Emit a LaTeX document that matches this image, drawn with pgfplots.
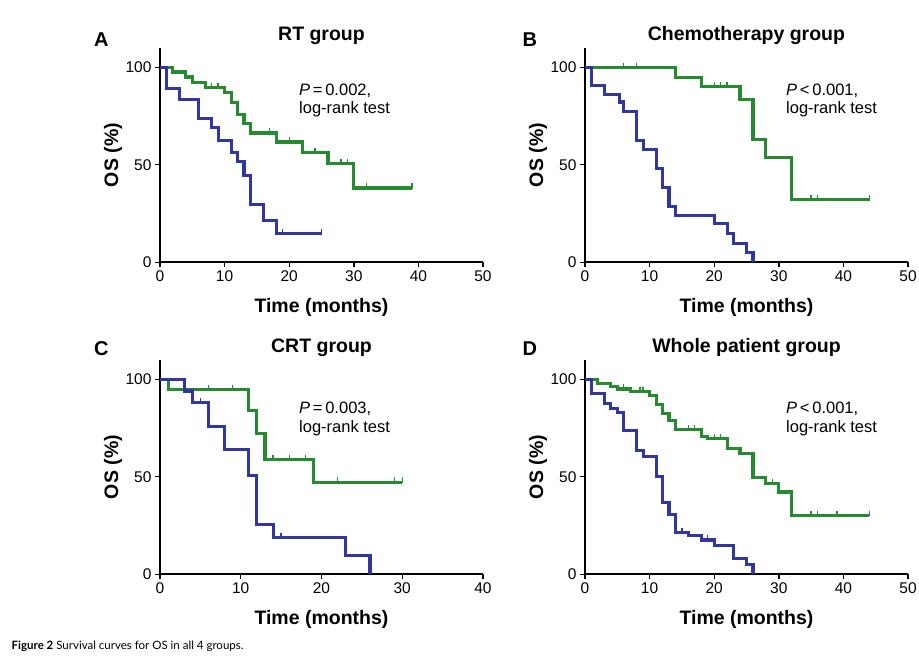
\documentclass[border=0pt]{standalone}
\usepackage{fontspec}
\setmainfont{Liberation Sans}
\newfontfamily\capfont{Lato}
\usepackage{pgfplots}
\pgfplotsset{compat=1.18}

\definecolor{kmgreen}{RGB}{38,138,48}
\definecolor{kmblue}{RGB}{50,55,160}

\pgfplotsset{
  km/.style={
    scale only axis, width=323pt, height=214.5pt,
    xmin=0, ymin=0, ymax=110,
    axis x line=bottom, axis y line=left,
    axis line style={-, line width=1.6pt, black},
    tick style={line width=1.4pt, black},
    tick align=outside, major tick length=5pt,
    ytick={0,50,100},
    /pgf/number format/assume math mode=true,
    every tick label/.append style={font=\fontsize{15.5}{18}\selectfont},
    xlabel={Time (months)}, ylabel={OS (\%)},
    xlabel style={at={(0.5,0)}, anchor=base, yshift=-50.5pt, font=\bfseries\fontsize{19.5}{22}\selectfont},
    ylabel style={at={(0,0.5)}, anchor=center, yshift=47pt, font=\bfseries\fontsize{19.5}{22}\selectfont},
    title style={at={(0.5,1)}, anchor=base, yshift=1pt, font=\bfseries\fontsize{19.5}{22}\selectfont},
    clip=false,
  },
  kmline/.style={const plot, line width=3.1pt, no marks, line join=miter},
  cens/.style={only marks, mark=|, mark size=2.8pt, mark options={line width=1.3pt, yshift=1.8pt}},
}
\tikzset{ann/.style={anchor=base west, font=\fontsize{16.5}{19}\selectfont}}

\begin{document}
\begin{tikzpicture}[x=1pt,y=1pt]
\path[use as bounding box] (0,0) rectangle (919,664);

% A: RT group
\begin{axis}[km, at={(160pt,401.7pt)}, anchor=south west, xmax=50, xtick={0,10,...,50}, title={RT group}]
\addplot[kmline, kmgreen] coordinates {(0,100) (2,97.6) (4,95) (5,92.3) (7,89.5) (10,87) (11,82) (12,76) (13,71) (14,66.3) (18,61.7) (22,56.5) (26,50.5) (30,38.1) (39,38.1)};
\addplot[cens, kmgreen] coordinates {(8,89.5) (9,89.5) (17,66.3) (20,61.7) (24,56.5) (28,50.5) (29,50.5) (32,38.1) (39,38.1)};
\addplot[kmline, kmblue] coordinates {(0,100) (1,89.2) (3,83.7) (6,73.7) (8,69) (9,62.5) (11,56.5) (12,51.5) (13,44.5) (14,29.6) (16,21.5) (18,14.6) (25,14.6)};
\addplot[cens, kmblue] coordinates {(19,14.6) (25,14.6)};
\node[ann] at (axis cs:21.0,85.6) {\textit{P}\,=\,0.002,};
\node[ann] at (axis cs:21.0,76.2) {log-rank test};
\end{axis}

% B: Chemotherapy group
\begin{axis}[km, at={(585pt,401.7pt)}, anchor=south west, xmax=50, xtick={0,10,...,50}, title={Chemotherapy group}]
\addplot[kmline, kmgreen] coordinates {(0,100) (14,94.8) (18,90.3) (24,83.6) (26,62.8) (28,53.8) (32,32.2) (44,32.2)};
\addplot[cens, kmgreen] coordinates {(6,100) (8,100) (20,90.3) (21,90.3) (22,90.3) (35,32.2) (36,32.2) (44,32.2)};
\addplot[kmline, kmblue] coordinates {(0,100) (1,90.5) (3,86.2) (5.3,82.2) (6,77.4) (8,62.4) (9,57.8) (11,48.3) (12,38.3) (13,28.8) (14,24) (20,19.8) (22,14.7) (23,9.8) (25,5.2) (26,0)};
\node[ann] at (axis cs:30.6,85.6) {\textit{P}\,<\,0.001,};
\node[ann] at (axis cs:30.6,76.2) {log-rank test};
\end{axis}

% C: CRT group
\begin{axis}[km, at={(160pt,89.7pt)}, anchor=south west, xmax=40, xtick={0,10,...,40}, title={CRT group}]
\addplot[kmline, kmgreen] coordinates {(0,100) (1,94.9) (11,84.2) (12,72.3) (13,59) (19,47.3) (30,47.3)};
\addplot[cens, kmgreen] coordinates {(6,94.9) (9,94.9) (14,59) (16,59) (18,59) (22,47.3) (29,47.3) (30,47.3)};
\addplot[kmline, kmblue] coordinates {(0,100) (3,94) (4,88.1) (6,75.7) (8,63.8) (11,50.7) (12,25.5) (14,18.7) (23,9.7) (26,0)};
\addplot[cens, kmblue] coordinates {(5,88.1) (15,18.7)};
\node[ann] at (axis cs:16.8,82.3) {\textit{P}\,=\,0.003,};
\node[ann] at (axis cs:16.8,72.6) {log-rank test};
\end{axis}

% D: Whole patient group
\begin{axis}[km, at={(585pt,89.7pt)}, anchor=south west, xmax=50, xtick={0,10,...,50}, title={Whole patient group}]
\addplot[kmline, kmgreen] coordinates {(0,100) (2,97.8) (4,96.4) (5,95) (7,93.7) (10,91.5) (11,87) (12,82.5) (13,78.8) (14,74.3) (18,70.5) (19,69.5) (22,64.5) (24,62) (26,49.5) (28,46.4) (30,42.2) (32,30.2) (44,30.2)};
\addplot[cens, kmgreen] coordinates {(6,95) (8.5,93.7) (9,93.7) (16,74.3) (17,74.3) (20,69.5) (21,69.5) (29,46.4) (35,30.2) (36,30.2) (39,30.2) (44,30.2)};
\addplot[kmline, kmblue] coordinates {(0,100) (1,92.6) (3,87.4) (4,85) (5,83.1) (6,73.6) (8,63.6) (9,60.3) (11,50.3) (12,36.6) (13,30.5) (14,21.6) (16,19.8) (18,17.6) (20,14.7) (23,8.1) (25,5.2) (26,0)};
\addplot[cens, kmblue] coordinates {(15,21.6) (19,17.6)};
\node[ann] at (axis cs:30.6,82.3) {\textit{P}\,<\,0.001,};
\node[ann] at (axis cs:30.6,72.6) {log-rank test};
\end{axis}

% panel letters
\node[anchor=base west, inner sep=0pt, font=\bfseries\fontsize{20}{22}\selectfont] at (94,617.3) {A};
\node[anchor=base west, inner sep=0pt, font=\bfseries\fontsize{20}{22}\selectfont] at (522.5,617.3) {B};
\node[anchor=base west, inner sep=0pt, font=\bfseries\fontsize{20}{22}\selectfont] at (94,308) {C};
\node[anchor=base west, inner sep=0pt, font=\bfseries\fontsize{20}{22}\selectfont] at (522.5,308) {D};

% caption
\node[anchor=base west, inner sep=0pt, font=\capfont\fontsize{11.5}{13}\selectfont] at (11.5,14) {\textbf{Figure 2} Survival curves for OS in all 4 groups.};
\end{tikzpicture}
\end{document}
